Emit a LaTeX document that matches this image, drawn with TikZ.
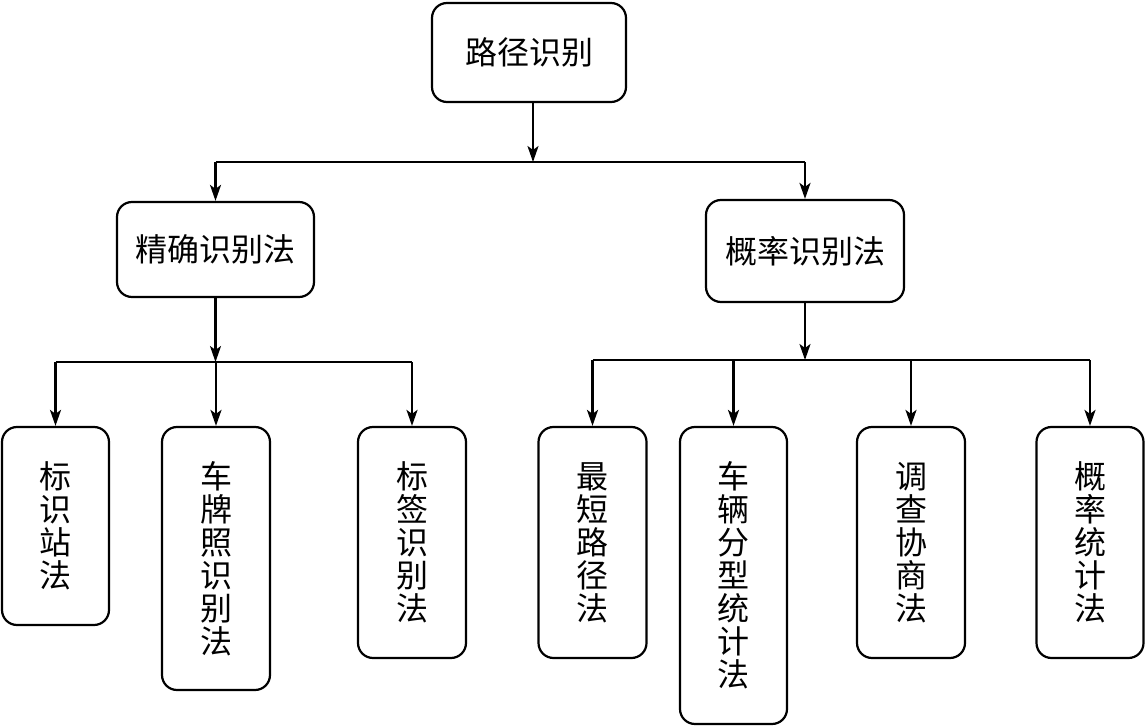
\documentclass[tikz,border=0pt]{standalone}
\usepackage{fontspec}
\newfontfamily\cjk{Noto Sans CJK SC}
\usetikzlibrary{arrows.meta}
\tikzset{
  box/.style={draw, line width=2.2pt, rounded corners=15pt, inner sep=0pt, align=center,
    font=\cjk\fontsize{32}{33}\selectfont},
  arr/.style={line width=2.2pt, -{Stealth[length=16pt,width=11pt,inset=4pt]}},
  ln/.style={line width=2.2pt}
}
\begin{document}
\begin{tikzpicture}[x=1pt,y=-1pt]
\useasboundingbox (0,0) rectangle (1146,727);
\node[box, minimum width=194pt, minimum height=99pt] (top) at (529,52.5) {路径识别};
\node[box, minimum width=197pt, minimum height=95pt] (ml) at (215.5,249.5) {精确识别法};
\node[box, minimum width=198pt, minimum height=102pt] (mr) at (805,251) {概率识别法};
\node[box, minimum width=107pt, minimum height=198pt] (a1) at (55.5,526) {标\\识\\站\\法};
\node[box, minimum width=108pt, minimum height=263pt] (a2) at (216,558.5) {车\\牌\\照\\识\\别\\法};
\node[box, minimum width=108pt, minimum height=231pt] (a3) at (412,542.5) {标\\签\\识\\别\\法};
\node[box, minimum width=108pt, minimum height=231pt] (b1) at (592.5,542.5) {最\\短\\路\\径\\法};
\node[box, minimum width=107pt, minimum height=297pt] (b2) at (733.5,575.5) {车\\辆\\分\\型\\统\\计\\法};
\node[box, minimum width=108pt, minimum height=231pt] (b3) at (911,542.5) {调\\查\\协\\商\\法};
\node[box, minimum width=107pt, minimum height=231pt] (b4) at (1090,542.5) {概\\率\\统\\计\\法};
\coordinate (j0) at (533,162);
\coordinate (j1) at (215.5,362);
\coordinate (j2) at (805,360);
% level 1
\draw[arr] (top.south -| j0) -- (j0);
\draw[ln] (ml.north |- j0) -- (mr.north |- j0);
\draw[arr] (ml.north |- j0) -- (ml.north);
\draw[arr] (mr.north |- j0) -- (mr.north);
% left branch
\draw[arr] (ml.south) -- (j1);
\draw[ln] (a1.north |- j1) -- (a3.north |- j1);
\draw[arr] (a1.north |- j1) -- (a1.north);
\draw[arr] (a2.north |- j1) -- (a2.north);
\draw[arr] (a3.north |- j1) -- (a3.north);
% right branch
\draw[arr] (mr.south) -- (j2);
\draw[ln] (b1.north |- j2) -- (b4.north |- j2);
\draw[arr] (b1.north |- j2) -- (b1.north);
\draw[arr] (b2.north |- j2) -- (b2.north);
\draw[arr] (b3.north |- j2) -- (b3.north);
\draw[arr] (b4.north |- j2) -- (b4.north);
\end{tikzpicture}
\end{document}
